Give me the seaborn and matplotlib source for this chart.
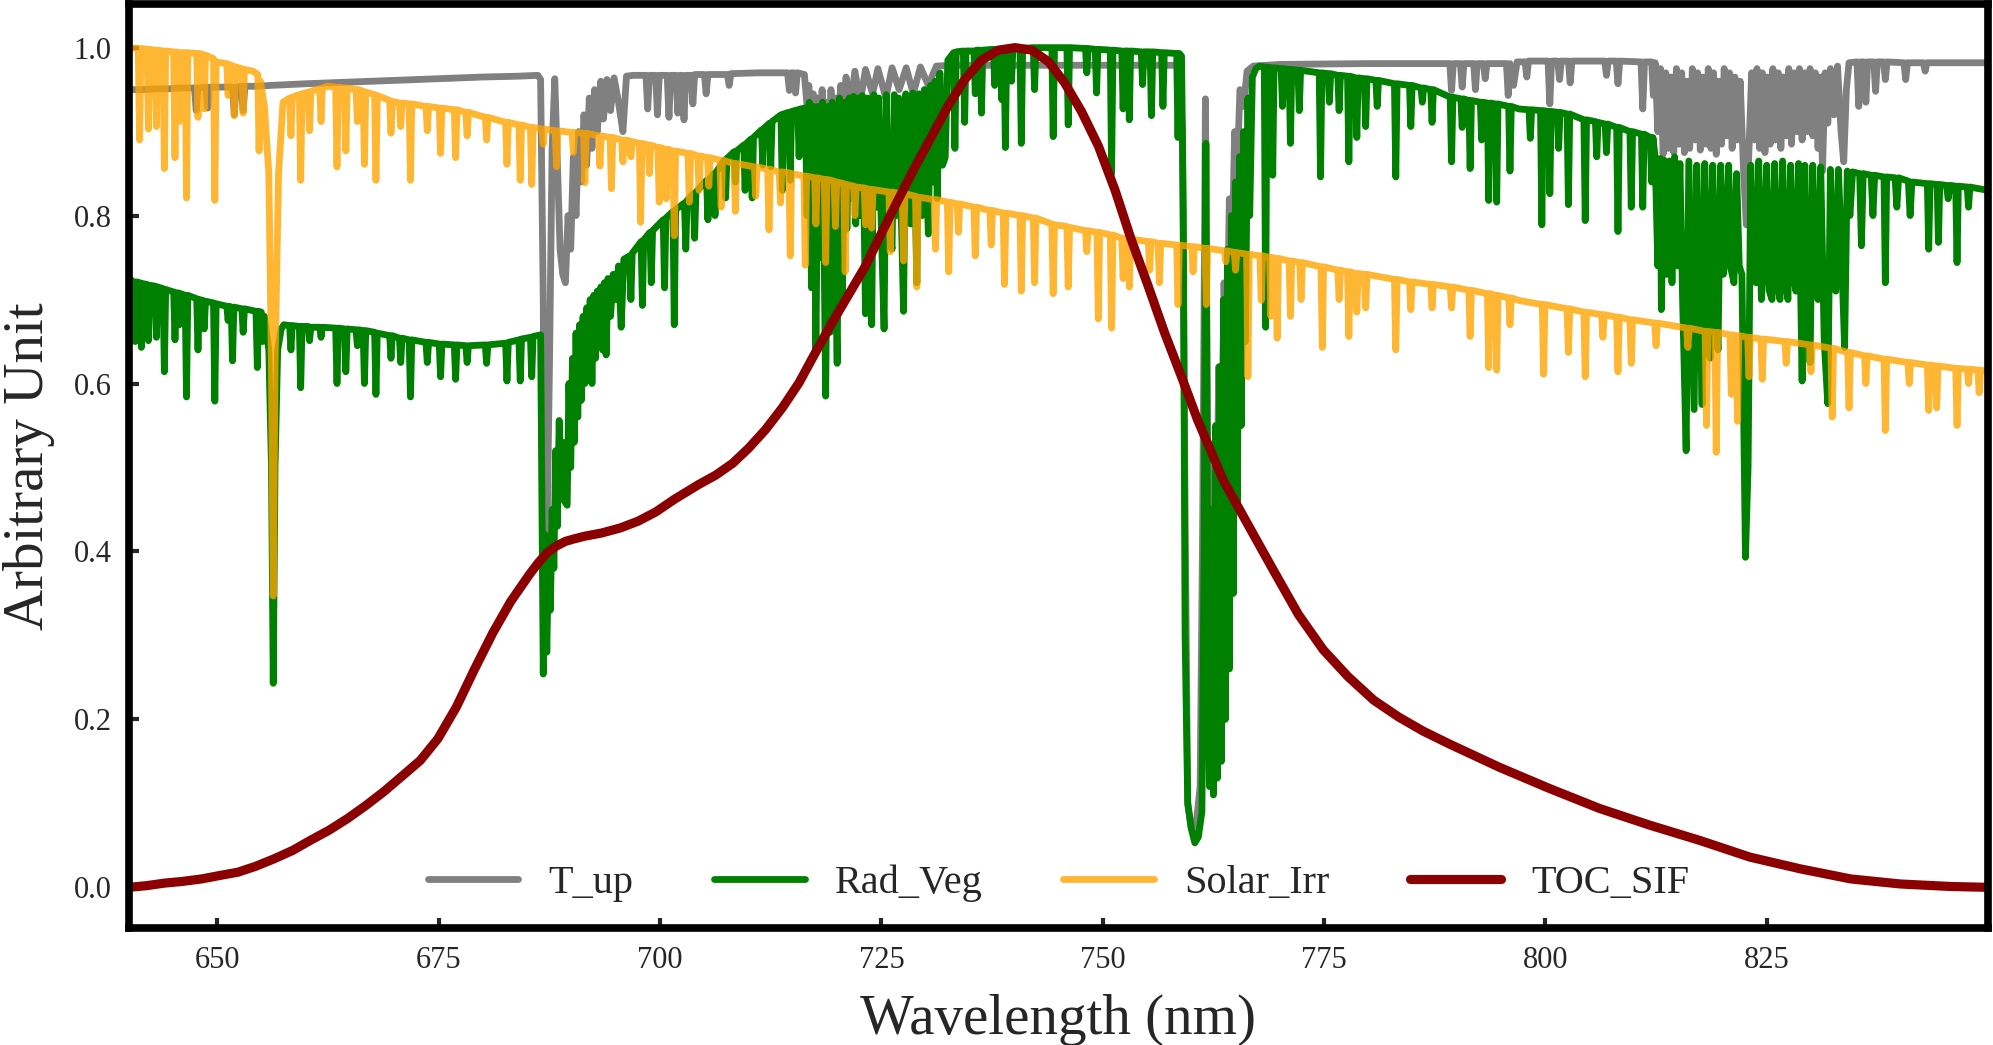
import matplotlib
matplotlib.use("Agg")
import matplotlib.pyplot as plt
import seaborn as sns

# ---- T_up (atmospheric transmittance, grey) ----
wl_tup = [
    640.0, 641.5, 643.0, 644.5, 646.0, 647.4, 647.6, 647.8, 648.7, 648.9,
    649.1, 650.5, 651.7, 651.9, 652.1, 652.7, 652.9, 653.1, 654.5, 656.0,
    660.0, 665.0, 670.0, 675.0, 680.0, 684.0, 686.2, 686.5, 686.8, 687.0,
    687.2, 687.5, 687.8, 688.1, 688.4, 688.7, 689.0, 689.3, 689.6, 689.9,
    690.2, 690.5, 690.8, 691.1, 691.4, 691.7, 692.0, 692.3, 692.6, 692.9,
    693.3, 693.6, 694.0, 694.4, 694.8, 695.3, 695.8, 696.2, 697.0, 698.4,
    698.6, 698.8, 699.5, 699.7, 699.9, 700.8, 701.0, 701.2, 701.8, 702.0,
    702.2, 702.5, 702.7, 702.9, 703.5, 703.7, 703.9, 705.0, 705.2, 705.4,
    707.6, 707.8, 708.0, 711.0, 714.4, 714.6, 714.8, 715.1, 715.3, 715.5,
    716.3, 716.6, 716.8, 717.1, 717.3, 717.6, 717.8, 718.1, 718.3, 718.6,
    718.8, 719.1, 719.3, 719.6, 719.8, 720.1, 720.4, 720.7, 721.0, 721.5,
    722.0, 722.6, 723.2, 724.0, 724.6, 725.5, 726.2, 727.0, 727.8, 728.6,
    729.4, 730.3, 731.2, 733.0, 740.0, 750.0, 758.6, 759.0, 759.3, 759.6,
    760.0, 760.5, 761.0, 761.3, 761.6, 761.9, 762.2, 762.5, 762.8, 763.1,
    763.4, 763.7, 764.0, 764.3, 764.6, 764.9, 765.2, 765.5, 765.9, 766.3,
    767.0, 770.0, 780.0, 789.2, 789.4, 789.6, 790.4, 790.6, 790.8, 791.9,
    792.1, 792.3, 793.0, 793.2, 793.4, 795.6, 795.8, 796.0, 796.4, 796.8,
    797.7, 797.9, 798.1, 800.3, 800.5, 800.7, 801.4, 801.6, 801.8, 802.6,
    802.8, 803.0, 806.7, 806.9, 807.1, 808.0, 808.2, 808.4, 810.8, 811.0,
    811.2, 812.0, 812.2, 812.4, 812.7, 813.0, 813.3, 813.6, 813.9, 814.2,
    814.5, 814.8, 815.1, 815.4, 815.7, 816.0, 816.3, 816.6, 816.9, 817.2,
    817.5, 817.8, 818.1, 818.4, 818.7, 819.0, 819.3, 819.6, 819.9, 820.2,
    820.5, 820.8, 821.1, 821.4, 821.7, 822.0, 822.4, 822.7, 823.0, 823.3,
    823.6, 823.9, 824.2, 824.5, 824.8, 825.1, 825.4, 825.7, 826.0, 826.3,
    826.6, 826.9, 827.2, 827.5, 827.8, 828.1, 828.4, 828.7, 829.0, 829.3,
    829.6, 829.9, 830.2, 830.5, 830.8, 831.1, 831.3, 831.6, 831.9, 832.2,
    832.6, 833.0, 833.4, 833.7, 834.0, 834.3, 835.2, 835.4, 835.6, 836.0,
    836.2, 836.4, 837.1, 837.3, 837.5, 838.2, 838.4, 838.6, 840.5, 840.7,
    840.9, 842.7, 842.9, 843.1, 846.0, 850.0,
]
tup = [
    .950, .950, .951, .951, .952, .952, .925, .952, .953, .928,
    .953, .953, .953, .920, .953, .954, .925, .954, .954, .955,
    .957, .959, .961, .963, .965, .966, .967, .962, .70, .34,
    .40, .62, .88, .963, .86, .76, .73, .72, .80, .76,
    .87, .80, .90, .84, .92, .86, .94, .88, .95, .90,
    .96, .915, .962, .925, .964, .935, .900, .966, .967, .967,
    .927, .967, .967, .920, .967, .967, .917, .967, .967, .922,
    .967, .967, .914, .967, .967, .933, .968, .968, .945, .968,
    .968, .955, .969, .970, .970, .949, .970, .970, .946, .970,
    .968, .93, .955, .90, .945, .885, .94, .89, .95, .88,
    .935, .895, .95, .885, .94, .90, .955, .92, .965, .93,
    .972, .935, .974, .945, .975, .94, .976, .95, .976, .945,
    .977, .955, .978, .979, .979, .979, .979, .90, .45, .10,
    .07, .07, .12, .45, .939, .45, .28, .50, .35, .62,
    .48, .72, .62, .82, .75, .90, .86, .95, .93, .972,
    .978, .980, .981, .981, .949, .981, .981, .953, .981, .981,
    .950, .981, .981, .963, .981, .981, .943, .981, .955, .983,
    .983, .965, .984, .984, .933, .984, .984, .962, .984, .984,
    .958, .984, .984, .967, .984, .984, .957, .984, .983, .927,
    .983, .983, .943, .982, .90, .975, .873, .97, .88, .965,
    .875, .975, .885, .97, .875, .96, .88, .975, .89, .97,
    .878, .965, .885, .975, .88, .97, .873, .96, .885, .975,
    .895, .97, .88, .965, .89, .96, .85, .789, .88, .97,
    .89, .975, .88, .97, .875, .965, .885, .975, .89, .97,
    .88, .965, .895, .975, .885, .97, .90, .975, .89, .97,
    .90, .975, .895, .97, .88, .965, .853, .97, .91, .975,
    .92, .978, .90, .864, .95, .982, .983, .930, .983, .983,
    .935, .983, .983, .948, .983, .983, .962, .983, .982, .962,
    .982, .982, .972, .982, .982, .982,
]

# ---- Rad_Veg (canopy radiance, green) ----
wl_rad = [
    640.0, 640.55, 640.7, 640.85, 641.25, 641.4, 641.55, 642.05, 642.2, 642.35,
    642.95, 643.1, 643.25, 643.85, 644.0, 644.15, 645.05, 645.2, 645.35, 645.55,
    645.7, 645.85, 646.35, 646.5, 646.65, 647.65, 647.8, 647.95, 648.35, 648.5,
    648.65, 649.55, 649.7, 649.85, 651.05, 651.2, 651.35, 651.55, 651.7, 651.85,
    652.75, 652.9, 653.05, 654.35, 654.5, 654.65, 654.95, 655.1, 655.3, 655.8,
    656.1, 656.3, 656.5, 656.8, 657.2, 657.5, 658.15, 658.3, 658.45, 659.25,
    659.4, 659.55, 660.25, 660.4, 660.55, 661.55, 661.7, 661.85, 663.35, 663.5,
    663.65, 664.35, 664.5, 664.65, 665.65, 665.8, 665.95, 666.45, 666.6, 666.75,
    667.75, 667.9, 668.05, 669.45, 669.6, 669.75, 670.55, 670.7, 670.85, 671.65,
    671.8, 671.95, 673.55, 673.7, 673.85, 675.05, 675.2, 675.35, 676.75, 676.9,
    677.05, 678.05, 678.2, 678.35, 680.25, 680.4, 680.55, 682.55, 682.7, 682.85,
    684.05, 684.2, 684.35, 685.35, 685.5, 685.65, 686.5, 686.8, 687.0, 687.2,
    687.4, 687.6, 687.8, 688.0, 688.2, 688.4, 688.6, 688.8, 689.0, 689.2,
    689.5, 689.7, 689.9, 690.1, 690.3, 690.5, 690.7, 690.9, 691.1, 691.3,
    691.5, 691.7, 691.9, 692.1, 692.3, 692.5, 692.7, 692.9, 693.1, 693.3,
    693.5, 693.7, 693.9, 694.1, 694.4, 694.7, 695.0, 695.3, 695.6, 695.9,
    696.55, 696.7, 696.85, 697.85, 698.0, 698.15, 698.85, 699.0, 699.15, 700.35,
    700.5, 700.65, 701.45, 701.6, 701.75, 702.75, 702.9, 703.05, 703.75, 703.9,
    704.05, 705.25, 705.4, 705.55, 706.05, 706.2, 706.35, 707.25, 707.4, 707.55,
    708.35, 708.5, 708.65, 709.45, 709.6, 709.75, 710.25, 710.4, 710.55, 711.45,
    711.6, 711.75, 712.35, 712.5, 712.65, 713.65, 713.8, 713.95, 714.55, 714.7,
    714.85, 715.55, 715.7, 715.85, 716.4, 716.6, 716.85, 717.1, 717.35, 717.6,
    717.85, 718.1, 718.35, 718.7, 719.0, 719.2, 719.45, 719.7, 720.0, 720.25,
    720.6, 720.85, 721.1, 721.35, 721.6, 721.85, 722.1, 722.35, 722.6, 722.85,
    723.2, 723.45, 723.7, 723.9, 724.15, 724.45, 724.7, 725.0, 725.3, 725.55,
    725.8, 726.2, 726.45, 726.7, 726.95, 727.2, 727.5, 727.75, 728.0, 728.3,
    728.55, 728.8, 729.0, 729.25, 729.6, 729.85, 730.3, 730.55, 730.8, 731.05,
    731.3, 731.6, 731.9, 732.2, 732.5, 733.15, 733.3, 733.45, 734.25, 734.4,
    734.55, 735.45, 735.6, 735.75, 736.15, 736.3, 736.45, 737.65, 737.8, 737.95,
    738.45, 738.6, 738.75, 738.85, 739.0, 739.15, 739.55, 739.7, 739.85, 740.65,
    740.8, 740.95, 742.15, 742.3, 742.45, 744.25, 744.4, 744.55, 745.95, 746.1,
    746.25, 748.05, 748.2, 748.35, 749.15, 749.3, 749.45, 750.85, 751.0, 751.15,
    752.15, 752.3, 752.45, 752.85, 753.0, 753.15, 754.35, 754.5, 754.65, 755.35,
    755.5, 755.65, 756.65, 756.8, 756.95, 758.35, 758.5, 758.65, 758.9, 759.1,
    759.3, 759.6, 760.0, 760.4, 760.8, 761.2, 761.45, 761.65, 761.85, 762.05,
    762.3, 762.5, 762.75, 762.95, 763.2, 763.4, 763.65, 763.85, 764.1, 764.3,
    764.55, 764.75, 765.0, 765.2, 765.45, 765.65, 765.9, 766.1, 766.4, 766.6,
    766.9, 767.3, 767.7, 768.25, 768.4, 768.55, 769.05, 769.2, 769.35, 770.15,
    770.3, 770.45, 771.05, 771.2, 771.35, 772.05, 772.2, 772.35, 774.45, 774.6,
    774.75, 775.45, 775.6, 775.75, 776.55, 776.7, 776.85, 777.65, 777.8, 777.95,
    778.55, 778.7, 778.85, 779.55, 779.7, 779.85, 780.85, 781.0, 781.15, 782.95,
    783.1, 783.25, 784.65, 784.8, 784.95, 785.95, 786.1, 786.25, 787.05, 787.2,
    787.35, 789.25, 789.4, 789.55, 790.45, 790.6, 790.75, 791.35, 791.5, 791.65,
    792.65, 792.8, 792.95, 793.45, 793.6, 793.75, 794.35, 794.5, 794.65, 795.85,
    796.0, 796.15, 797.0, 798.15, 798.3, 798.45, 799.45, 799.6, 799.75, 800.35,
    800.5, 800.65, 801.35, 801.5, 801.65, 802.45, 802.6, 802.75, 804.35, 804.5,
    804.65, 805.65, 805.8, 805.95, 806.75, 806.9, 807.05, 808.05, 808.2, 808.35,
    809.55, 809.7, 809.85, 810.85, 811.0, 811.15, 811.85, 812.0, 812.15, 812.4,
    812.7, 813.0, 813.1, 813.4, 813.7, 814.0, 814.3, 814.6, 814.9, 815.2,
    815.5, 815.9, 816.2, 816.5, 816.8, 817.1, 817.4, 817.7, 818.0, 818.3,
    818.6, 818.9, 819.2, 819.5, 819.8, 820.1, 820.4, 820.7, 821.0, 821.3,
    821.6, 821.9, 822.2, 822.6, 822.9, 823.2, 823.5, 823.8, 824.1, 824.4,
    824.7, 825.0, 825.3, 825.6, 825.9, 826.2, 826.5, 826.8, 827.1, 827.4,
    827.7, 828.0, 828.3, 828.6, 829.0, 829.3, 829.6, 829.9, 830.2, 830.5,
    830.8, 831.1, 831.5, 831.9, 832.2, 832.5, 832.8, 833.1, 833.5, 833.8,
    834.1, 834.4, 834.7, 835.5, 835.7, 835.9, 836.8, 837.0, 837.2, 838.25,
    838.4, 838.55, 839.5, 839.7, 839.9, 841.0, 841.2, 841.4, 843.15, 843.3,
    843.45, 844.25, 844.4, 844.55, 845.3, 845.5, 845.7, 846.35, 846.5, 846.65,
    847.65, 847.8, 847.95, 849.0, 850.0,
]
rad = [
    .725, .721, .650, .721, .720, .643, .719, .718, .651, .717,
    .716, .655, .715, .713, .614, .712, .709, .652, .708, .708,
    .670, .707, .705, .584, .705, .701, .640, .700, .699, .665,
    .698, .696, .579, .695, .692, .675, .692, .691, .627, .691,
    .689, .661, .689, .686, .619, .686, .685, .650, .680, .640,
    .50, .243, .50, .640, .665, .670, .669, .640, .669, .668,
    .595, .668, .668, .651, .667, .667, .655, .667, .666, .600,
    .666, .665, .614, .665, .664, .645, .664, .663, .600, .663,
    .661, .587, .660, .657, .630, .657, .654, .625, .654, .652,
    .584, .652, .649, .625, .649, .647, .608, .647, .646, .605,
    .646, .645, .625, .645, .646, .624, .646, .648, .603, .649,
    .652, .603, .653, .655, .608, .656, .658, .254, .42, .28,
    .40, .33, .45, .38, .52, .43, .556, .47, .53, .46,
    .455, .60, .50, .63, .53, .66, .56, .67, .58, .68,
    .60, .69, .62, .70, .60, .705, .63, .71, .65, .715,
    .64, .72, .634, .725, .68, .73, .70, .74, .667, .748,
    .752, .700, .755, .769, .693, .771, .780, .720, .782, .795,
    .714, .797, .805, .670, .807, .815, .760, .818, .826, .773,
    .828, .842, .795, .843, .850, .800, .852, .866, .821, .868,
    .876, .840, .877, .884, .830, .886, .891, .821, .893, .902,
    .860, .904, .910, .858, .912, .920, .830, .921, .923, .842,
    .924, .926, .870, .927, .928, .80, .935, .714, .93, .640,
    .93, .75, .935, .585, .93, .661, .935, .80, .624, .94,
    .704, .935, .784, .94, .82, .942, .79, .94, .80, .943,
    .683, .94, .80, .670, .944, .81, .94, .78, .665, .944,
    .79, .76, .944, .80, .94, .82, .686, .945, .80, .79,
    .946, .83, .720, .945, .80, .95, .778, .955, .84, .96,
    .82, .97, .86, .869, .985, .994, .880, .995, .996, .911,
    .996, .996, .945, .997, .997, .922, .997, .998, .955, .998,
    .998, .938, .998, .998, .881, .998, .999, .960, .999, .999,
    .886, .999, 1.0, .950, 1.0, 1.0, .894, 1.0, 1.0, .908,
    1.0, .999, .970, .999, .998, .946, .998, .997, .850, .997,
    .996, .927, .996, .996, .914, .996, .995, .956, .995, .995,
    .919, .995, .994, .930, .994, .993, .893, .993, .99, .80,
    .30, .10, .07, .053, .06, .09, .40, .886, .35, .12,
    .45, .11, .55, .13, .62, .15, .70, .20, .76, .26,
    .80, .35, .84, .45, .87, .55, .90, .65, .94, .80,
    .965, .975, .978, .977, .667, .977, .976, .848, .976, .975,
    .930, .975, .974, .886, .974, .973, .925, .973, .970, .846,
    .970, .969, .935, .969, .967, .925, .967, .966, .864, .966,
    .964, .893, .964, .963, .906, .963, .961, .930, .961, .957,
    .846, .957, .955, .906, .955, .952, .935, .952, .950, .911,
    .950, .941, .864, .941, .939, .905, .939, .937, .856, .937,
    .935, .890, .935, .934, .818, .934, .933, .816, .933, .930,
    .853, .930, .927, .926, .892, .926, .925, .789, .925, .924,
    .826, .924, .923, .880, .923, .921, .813, .921, .914, .794,
    .914, .912, .870, .911, .909, .875, .909, .905, .781, .905,
    .900, .810, .900, .897, .810, .897, .893, .840, .893, .87,
    .74, .868, .688, .866, .73, .865, .72, .87, .74, .862,
    .70, .520, .865, .72, .569, .86, .73, .575, .862, .74,
    .63, .86, .72, .64, .86, .73, .75, .86, .735, .72,
    .85, .74, .73, .393, .502, .86, .74, .72, .865, .70,
    .75, .86, .71, .70, .862, .72, .70, .865, .72, .70,
    .86, .73, .71, .862, .603, .86, .72, .625, .86, .73,
    .70, .858, .65, .576, .855, .72, .71, .855, .74, .643,
    .853, .80, .852, .850, .764, .850, .848, .80, .848, .846,
    .720, .846, .845, .810, .845, .841, .80, .840, .838, .760,
    .838, .837, .768, .837, .836, .82, .836, .835, .744, .835,
    .834, .810, .834, .832, .830,
]

# ---- Solar_Irr (solar irradiance, orange) ----
wl_sol = [
    640.0, 641.05, 641.2, 641.35, 642.05, 642.2, 642.35, 642.95, 643.1, 643.25,
    643.85, 644.0, 644.15, 645.05, 645.2, 645.35, 645.55, 645.7, 645.85, 646.35,
    646.5, 646.65, 647.65, 647.8, 647.95, 648.35, 648.5, 648.65, 649.55, 649.7,
    649.85, 651.05, 651.2, 651.35, 651.75, 651.9, 652.05, 652.75, 652.9, 653.05,
    654.0, 654.55, 654.7, 654.85, 655.3, 655.8, 656.1, 656.3, 656.5, 656.9,
    657.4, 658.15, 658.3, 658.45, 659.25, 659.4, 659.55, 660.25, 660.4, 660.55,
    661.55, 661.7, 661.85, 662.4, 663.35, 663.5, 663.65, 664.35, 664.5, 664.65,
    665.65, 665.8, 665.95, 666.45, 666.6, 666.75, 667.75, 667.9, 668.05, 669.45,
    669.6, 669.75, 670.55, 670.7, 670.85, 671.65, 671.8, 671.95, 673.55, 673.7,
    673.85, 675.05, 675.2, 675.35, 676.75, 676.9, 677.05, 678.05, 678.2, 678.35,
    680.25, 680.4, 680.55, 682.55, 682.7, 682.85, 684.05, 684.2, 684.35, 685.35,
    685.5, 685.65, 686.65, 686.8, 686.95, 688.15, 688.3, 688.45, 690.05, 690.2,
    690.35, 691.35, 691.5, 691.65, 693.05, 693.2, 693.35, 694.35, 694.5, 694.65,
    695.65, 695.8, 695.95, 696.55, 696.7, 696.85, 697.65, 697.8, 697.95, 698.65,
    698.8, 698.95, 699.75, 699.9, 700.05, 700.55, 700.7, 700.85, 701.45, 701.6,
    701.75, 703.15, 703.3, 703.45, 704.25, 704.4, 704.55, 705.35, 705.5, 705.65,
    706.75, 706.9, 707.05, 708.35, 708.5, 708.65, 710.65, 710.8, 710.95, 712.15,
    712.3, 712.45, 713.45, 713.6, 713.75, 714.55, 714.7, 714.85, 716.25, 716.4,
    716.55, 717.45, 717.6, 717.75, 718.55, 718.7, 718.85, 719.65, 719.8, 719.95,
    720.75, 720.9, 721.05, 721.85, 722.0, 722.15, 723.05, 723.2, 723.35, 723.75,
    723.9, 724.05, 725.85, 726.0, 726.15, 727.35, 727.5, 727.65, 728.85, 729.0,
    729.15, 730.95, 731.1, 731.25, 732.45, 732.6, 732.75, 733.55, 733.7, 733.85,
    735.45, 735.6, 735.75, 737.25, 737.4, 737.55, 738.75, 738.9, 739.05, 740.65,
    740.8, 740.95, 742.15, 742.3, 742.45, 744.25, 744.4, 744.55, 745.95, 746.1,
    746.25, 748.05, 748.2, 748.35, 749.35, 749.5, 749.65, 750.85, 751.0, 751.15,
    752.15, 752.3, 752.45, 752.85, 753.0, 753.15, 755.15, 755.3, 755.45, 756.25,
    756.4, 756.55, 758.35, 758.5, 758.65, 760.05, 760.2, 760.35, 761.55, 761.7,
    761.85, 763.75, 763.9, 764.05, 764.85, 765.0, 765.15, 766.25, 766.4, 766.55,
    767.75, 767.9, 768.05, 768.85, 769.0, 769.15, 769.55, 769.7, 769.85, 771.05,
    771.2, 771.35, 772.25, 772.4, 772.55, 774.65, 774.8, 774.95, 776.55, 776.7,
    776.85, 777.65, 777.8, 777.95, 778.55, 778.7, 778.85, 779.55, 779.7, 779.85,
    782.95, 783.1, 783.25, 784.65, 784.8, 784.95, 787.05, 787.2, 787.35, 789.25,
    789.4, 789.55, 791.35, 791.5, 791.65, 793.45, 793.6, 793.75, 794.35, 794.5,
    794.65, 795.85, 796.0, 796.15, 797.0, 799.65, 799.8, 799.95, 802.45, 802.6,
    802.75, 804.35, 804.5, 804.65, 806.35, 806.5, 806.65, 808.05, 808.2, 808.35,
    809.55, 809.7, 809.85, 812.35, 812.5, 812.65, 815.95, 816.1, 816.25, 818.05,
    818.2, 818.35, 819.15, 819.3, 819.45, 820.85, 821.0, 821.15, 821.55, 821.7,
    821.85, 822.85, 823.0, 823.15, 824.35, 824.5, 824.65, 827.05, 827.2, 827.35,
    829.85, 830.0, 830.15, 832.25, 832.4, 832.55, 834.15, 834.3, 834.45, 836.05,
    836.2, 836.35, 838.25, 838.4, 838.55, 840.95, 841.1, 841.25, 843.15, 843.3,
    843.45, 844.05, 844.2, 844.35, 846.35, 846.5, 846.65, 847.65, 847.8, 847.95,
    848.85, 849.0, 849.15, 850.0,
]
sol = [
    1.000, .999, .890, .999, .998, .903, .998, .997, .906, .997,
    .996, .856, .996, .995, .869, .995, .994, .912, .994, .994,
    .821, .994, .993, .917, .993, .992, .927, .991, .987, .818,
    .983, .981, .943, .980, .978, .919, .977, .975, .922, .974,
    .972, .968, .877, .960, .930, .850, .620, .347, .620, .850,
    .935, .940, .895, .941, .944, .842, .945, .947, .901, .948,
    .951, .912, .952, .954, .953, .858, .953, .952, .877, .952,
    .950, .912, .950, .948, .861, .947, .944, .842, .943, .937,
    .898, .936, .934, .906, .934, .933, .842, .933, .930, .901,
    .930, .928, .874, .928, .926, .869, .926, .923, .895, .923,
    .917, .890, .917, .911, .861, .911, .908, .842, .908, .905,
    .837, .905, .903, .885, .903, .901, .858, .901, .899, .875,
    .899, .898, .839, .898, .895, .859, .895, .893, .832, .893,
    .890, .864, .890, .889, .870, .888, .886, .792, .886, .884,
    .850, .884, .881, .816, .881, .879, .820, .879, .877, .776,
    .877, .874, .816, .874, .871, .830, .871, .869, .835, .869,
    .866, .810, .866, .862, .805, .862, .858, .823, .858, .855,
    .783, .855, .852, .815, .852, .851, .752, .850, .847, .741,
    .847, .845, .790, .845, .843, .744, .843, .841, .787, .840,
    .838, .733, .837, .835, .800, .834, .833, .789, .832, .831,
    .785, .831, .828, .757, .828, .826, .746, .826, .823, .715,
    .822, .819, .760, .819, .816, .733, .816, .814, .780, .814,
    .810, .752, .810, .806, .765, .806, .803, .718, .803, .800,
    .710, .800, .797, .720, .797, .790, .707, .789, .787, .715,
    .786, .782, .757, .782, .780, .677, .780, .777, .666, .777,
    .773, .725, .773, .772, .715, .772, .769, .735, .769, .767,
    .720, .767, .765, .694, .765, .763, .733, .763, .761, .694,
    .761, .758, .745, .758, .756, .735, .756, .754, .608, .754,
    .752, .699, .752, .750, .680, .750, .749, .654, .749, .746,
    .680, .746, .744, .700, .744, .739, .643, .739, .735, .700,
    .735, .733, .656, .733, .731, .685, .731, .730, .690, .730,
    .724, .640, .724, .721, .688, .721, .718, .690, .718, .715,
    .690, .715, .711, .656, .711, .707, .619, .707, .705, .616,
    .705, .702, .670, .702, .699, .694, .611, .694, .689, .637,
    .689, .685, .608, .685, .682, .655, .682, .679, .614, .679,
    .676, .624, .676, .672, .645, .672, .666, .643, .666, .662,
    .550, .662, .661, .518, .661, .658, .587, .658, .657, .555,
    .657, .655, .608, .655, .653, .605, .653, .650, .624, .650,
    .646, .614, .646, .642, .560, .642, .637, .571, .637, .633,
    .600, .633, .629, .544, .629, .625, .600, .625, .622, .568,
    .622, .621, .571, .621, .618, .550, .618, .617, .600, .617,
    .616, .589, .616, .614,
]

# ---- TOC_SIF (fluorescence, dark red) ----
wl_sif = [
    640.0, 642.0, 644.0, 646.0, 648.2, 650.2, 652.3, 654.3, 656.4, 658.5,
    660.5, 662.6, 664.7, 666.7, 668.8, 670.8, 672.9, 674.9, 677.0, 679.0,
    681.1, 683.1, 685.2, 686.2, 687.2, 688.2, 689.3, 690.3, 691.4, 693.4,
    695.5, 697.5, 699.5, 701.6, 704.4, 706.3, 708.2, 710.0, 711.9, 713.8,
    715.7, 717.5, 719.4, 721.3, 723.2, 725.0, 726.9, 728.8, 730.7, 732.5,
    734.4, 736.3, 738.2, 740.1, 742.0, 743.9, 745.7, 747.6, 749.5, 751.4,
    753.2, 755.1, 757.0, 758.9, 760.7, 762.2, 763.6, 766.4, 769.2, 772.1,
    774.9, 777.7, 780.6, 783.4, 786.2, 789.1, 794.8, 800.4, 806.1, 811.8,
    817.4, 823.1, 828.8, 834.5, 840.1, 845.8, 850.0,
]
sif = [
    0.000, 0.002, 0.005, 0.007, 0.010, 0.014, 0.018, 0.025, 0.034, 0.044,
    0.056, 0.068, 0.082, 0.097, 0.114, 0.132, 0.151, 0.177, 0.215, 0.259,
    0.303, 0.340, 0.372, 0.386, 0.398, 0.406, 0.412, 0.415, 0.418, 0.422,
    0.428, 0.436, 0.447, 0.462, 0.480, 0.491, 0.505, 0.523, 0.545, 0.571,
    0.601, 0.636, 0.672, 0.706, 0.740, 0.779, 0.819, 0.858, 0.895, 0.930,
    0.962, 0.985, 0.997, 1.000, 0.997, 0.983, 0.958, 0.924, 0.883, 0.830,
    0.772, 0.717, 0.660, 0.608, 0.557, 0.520, 0.485, 0.432, 0.379, 0.325,
    0.283, 0.251, 0.223, 0.203, 0.186, 0.171, 0.143, 0.118, 0.094, 0.074,
    0.056, 0.036, 0.022, 0.010, 0.004, 0.001, 0.000,
]

series = [
    ("T_up", wl_tup, tup, "grey", 4.9, 1.0),
    ("Rad_Veg", wl_rad, rad, "green", 4.9, 1.0),
    ("Solar_Irr", wl_sol, sol, "orange", 4.9, 0.8),
    ("TOC_SIF", wl_sif, sif, "darkred", 6.6, 1.0),
]

sns.set_style("ticks")
plt.rcParams["font.family"] = ["Liberation Serif", "DejaVu Serif"]

fig = plt.figure(figsize=(19.93, 10.45), dpi=100)
ax = fig.add_axes([0.0647, 0.1115, 0.9328, 0.8847])

for name, x, y, col, lw, a in series:
    sns.lineplot(x=x, y=y, color=col, linewidth=lw, alpha=a, label=name,
                 estimator=None, sort=False, ax=ax)

ax.set_xlim(640, 850)
ax.set_ylim(-0.049, 1.052)
ax.set_xticks([650, 675, 700, 725, 750, 775, 800, 825])
ax.set_yticks([0.0, 0.2, 0.4, 0.6, 0.8, 1.0])

for sp in ax.spines.values():
    sp.set_linewidth(5.5)
    sp.set_color("black")
ax.tick_params(direction="in", length=7.5, width=3, labelsize=22, pad=12.5,
               top=False, right=False)

ax.set_xlabel("Wavelength (nm)", fontsize=41, labelpad=13.5)
ax.set_ylabel("Arbitrary Unit", fontsize=41, labelpad=13.5)

ax.legend(loc="lower center", bbox_to_anchor=(0.5, -0.0105), ncol=4,
          frameon=False, fontsize=29, handlelength=2.25, handletextpad=0.75)

fig.savefig("out.png", dpi=100)
